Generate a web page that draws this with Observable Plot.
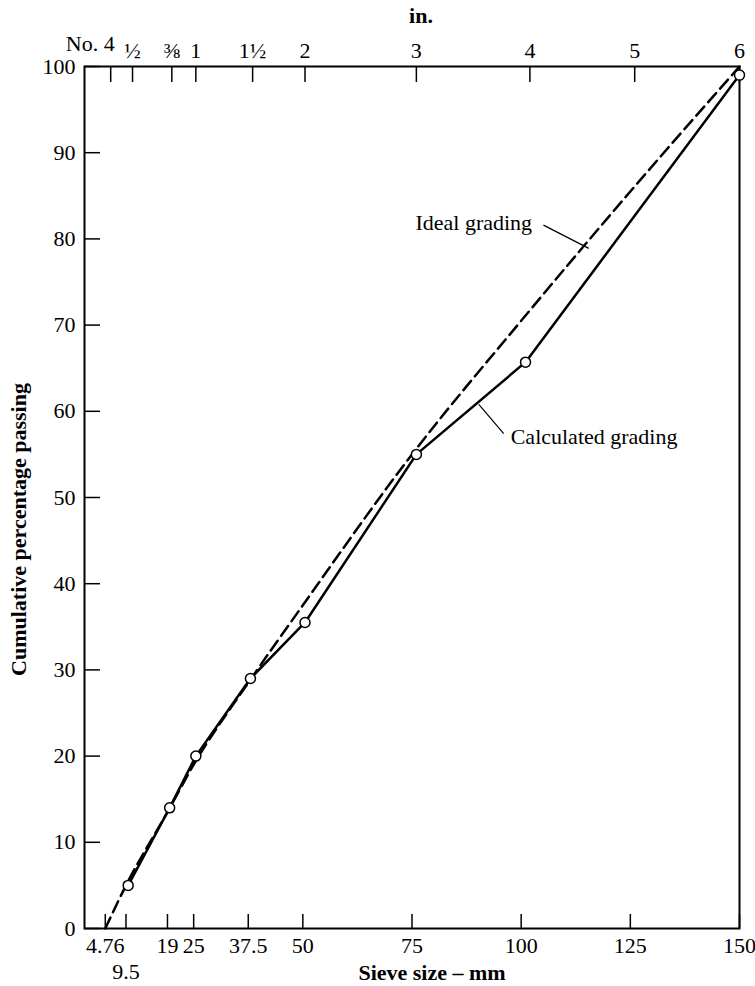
<!DOCTYPE html>
<html><head><meta charset="utf-8">
<script src="https://cdn.jsdelivr.net/npm/d3@7"></script>
<script src="https://cdn.jsdelivr.net/npm/@observablehq/plot@0.6"></script>
<style>
html,body{margin:0;padding:0;background:#fff;}
#chart svg{display:block;}
</style>
</head><body><div id="chart"></div>
<script>
// Calculated grading (sieve size mm, cumulative % passing)
const calcSize = [10, 19.5, 25.5, 38, 50.5, 76, 101, 150];
const calcPassing = [5, 14, 20, 29, 35.5, 55, 65.7, 99];
// Ideal grading
const idealSize = [4.76, 9.5, 19, 25, 37.5, 50, 75, 100, 125, 150];
const idealPassing = [0, 5, 13.5, 19, 28.5, 37.5, 55, 70.5, 85.5, 100];
// Bottom axis (mm)
const mmTicks = [4.76, 9.5, 19, 25, 37.5, 50, 75, 100, 125, 150];
const mmTickLabels = ["4.76", "9.5", "19", "25", "37.5", "50", "75", "100", "125", "150"];
// Top axis (in.) positions in mm as drawn
const inchTicks = [6, 11, 20, 25.5, 38.5, 50.5, 76, 102, 126, 150];
const inchTickLabels = ["No. 4", "½", "⅜", "1", "1½", "2", "3", "4", "5", "6"];
// Left axis
const yTicks = [0, 10, 20, 30, 40, 50, 60, 70, 80, 90, 100];
// Annotations
const idealNote = {t: "Ideal grading", x: 102.5, y: 81.8};
const calcNote = {t: "Calculated grading", x: 97.6, y: 57};
const leaderX1 = [105.1, 96.0];
const leaderY1 = [81.6, 57.4];
const leaderX2 = [115.5, 90.3];
const leaderY2 = [78.9, 60.8];

const calcData = calcSize.map((d, i) => ({size: d, passing: calcPassing[i]}));
const idealData = idealSize.map((d, i) => ({size: d, passing: idealPassing[i]}));
const leaders = leaderX1.map((d, i) => ({x1: d, y1: leaderY1[i], x2: leaderX2[i], y2: leaderY2[i]}));

const font = "'Liberation Serif', 'Times New Roman', serif";
const fs = 22;

const chart = Plot.plot({
  width: 755,
  height: 986,
  marginTop: 66,
  marginBottom: 58,
  marginLeft: 84,
  marginRight: 16,
  style: {fontFamily: font, fontSize: fs + "px", color: "black", background: "white"},
  x: {type: "linear", domain: [0, 150]},
  y: {type: "linear", domain: [0, 100]},
  marks: [
    Plot.frame({stroke: "black", strokeWidth: 2}),
    Plot.axisX(mmTicks, {anchor: "bottom", tickSize: -14, strokeWidth: 1.5, fontSize: fs, label: null,
      tickFormat: d => { const i = mmTicks.indexOf(d); return i === 1 ? null : mmTickLabels[i]; }}),
    Plot.text([mmTicks[1]], {x: d => d, frameAnchor: "bottom", lineAnchor: "middle", textAnchor: "middle", dy: 43, fontSize: fs,
      text: d => mmTickLabels[mmTicks.indexOf(d)]}),
    Plot.axisX(inchTicks, {anchor: "top", tickSize: -15, strokeWidth: 1.5, fontSize: fs, label: null,
      tickFormat: d => { const i = inchTicks.indexOf(d); return i === 0 ? null : inchTickLabels[i]; }}),
    Plot.text([inchTicks[0]], {x: d => d, frameAnchor: "top", lineAnchor: "bottom", dy: -16, dx: 4, textAnchor: "end", fontSize: fs,
      text: d => inchTickLabels[inchTicks.indexOf(d)]}),
    Plot.axisY(yTicks, {anchor: "left", tickSize: -16, strokeWidth: 1.5, fontSize: fs, label: null}),
    Plot.text(["Cumulative percentage passing"], {frameAnchor: "left", rotate: -90, textAnchor: "middle", lineAnchor: "middle",
      dx: -66, dy: 32, fontWeight: "bold", fontSize: fs}),
    Plot.text(["Sieve size – mm"], {frameAnchor: "bottom", textAnchor: "middle", lineAnchor: "middle",
      dx: 20, dy: 44, fontWeight: "bold", fontSize: fs}),
    Plot.text(["in."], {frameAnchor: "top", textAnchor: "middle", lineAnchor: "middle",
      dx: 9, dy: -51, fontWeight: "bold", fontSize: fs}),
    Plot.line(idealData, {x: "size", y: "passing", stroke: "black", strokeWidth: 2.5,
      strokeDasharray: "12,6", curve: "monotone-x"}),
    Plot.line(calcData, {x: "size", y: "passing", stroke: "black", strokeWidth: 2.5}),
    Plot.dot(calcData, {x: "size", y: "passing", r: 5, fill: "white", stroke: "black", strokeWidth: 1.5}),
    Plot.link(leaders, {x1: "x1", y1: "y1", x2: "x2", y2: "y2", stroke: "black", strokeWidth: 1.2}),
    Plot.text([idealNote], {x: "x", y: "y", text: "t", textAnchor: "end", lineAnchor: "middle", fontSize: fs}),
    Plot.text([calcNote], {x: "x", y: "y", text: "t", textAnchor: "start", lineAnchor: "middle", fontSize: fs})
  ]
});
document.getElementById("chart").appendChild(chart);
</script>
</body></html>
